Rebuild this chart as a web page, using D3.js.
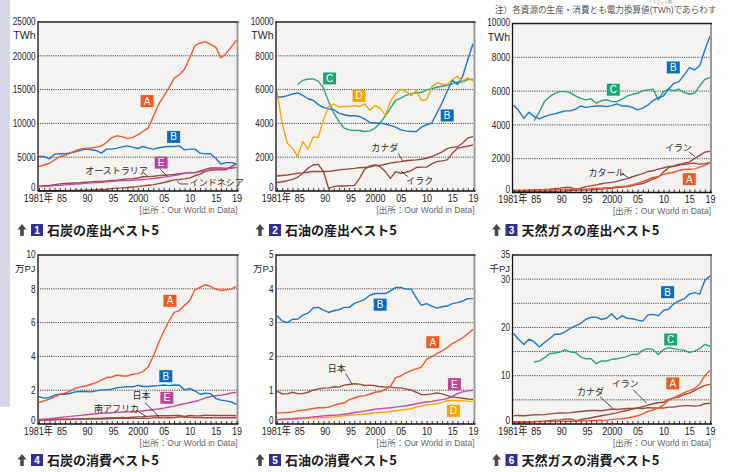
<!DOCTYPE html>
<html>
<head>
<meta charset="utf-8">
<script src="https://cdn.jsdelivr.net/npm/d3@7"></script>
<style>
  body { margin: 0; background: #fff; }
  svg { display: block; }
</style>
</head>
<body>
<svg id="chart" width="735" height="472"></svg>
<script>
// ---------- data ----------
const years = [1981,1982,1983,1984,1985,1986,1987,1988,1989,1990,1991,1992,1993,1994,1995,1996,1997,1998,1999,2000,
               2001,2002,2003,2004,2005,2006,2007,2008,2009,2010,2011,2012,2013,2014,2015,2016,2017,2018,2019];
const yearLabels = {1981: "1981年", 1985: "85", 1990: "90", 1995: "95", 2000: "2000", 2005: "05", 2010: "10", 2015: "15", 2019: "19"};

// 1 coal production (TWh)
const coalProdA = [3600,3850,4100,4600,5100,5250,5600,5950,6200,6340,6340,6480,6680,7180,7900,8150,8050,7750,7900,8300,8800,9300,11000,12800,14000,15250,16700,17200,18000,19700,21500,21900,22100,21700,21300,19700,20350,21300,22300];
const coalProdB = [5100,5100,4750,5450,5500,5500,5650,5800,6000,6200,6100,6000,5600,6200,6200,6350,6530,6680,6500,6290,6580,6350,6200,6400,6500,6580,6580,6680,6090,6200,6200,5600,5500,5500,4850,4000,4200,4200,4000];
const coalProdE = [650,700,740,800,850,900,950,1010,1080,1130,1200,1250,1300,1350,1420,1480,1530,1560,1580,1640,1700,1760,1850,1960,2050,2170,2300,2450,2600,2700,2750,2850,2950,3100,3200,3250,3300,3450,3500];
const coalProdAustralia = [720,780,830,950,1050,1100,1150,1180,1220,1300,1350,1400,1420,1470,1550,1600,1700,1800,1820,1920,2100,2120,2180,2270,2320,2380,2450,2550,2650,2750,2700,2950,3200,3400,3400,3400,3350,3400,3500];
const coalProdIndonesia = [20,25,30,40,50,60,70,90,110,130,160,200,230,270,350,420,460,520,600,650,750,850,950,1100,1250,1450,1650,1700,1800,1950,2250,2500,2900,3100,3150,3150,3150,3600,4000];

// 2 oil production (TWh)
const oilProdB = [5560,5560,5640,5740,5800,5660,5460,5370,5110,4950,4870,4810,4610,4510,4450,4450,4410,4260,4060,4020,4020,3960,3880,3780,3620,3560,3520,3520,3780,3920,4020,4610,5210,5900,6550,6300,6790,7780,8710];
const oilProdC = [null,null,null,null,6300,6550,6630,6630,6500,6100,5300,4610,4120,3720,3620,3580,3580,3520,3560,3720,4020,4450,4910,5370,5500,5660,5760,5800,5840,5980,6060,6140,6200,6260,6340,6450,6450,6600,6620];
const oilProdD = [5900,4000,2830,2530,2040,2930,2470,3190,3170,4220,5000,5150,4970,5000,5000,5050,5000,5150,4770,5070,4900,4470,5300,5760,6000,5900,5640,5940,5370,5400,6160,6400,6320,6300,6600,6790,6500,6690,6500];
const oilProdCanada = [890,920,950,1000,1050,1070,1110,1150,1150,1150,1160,1200,1250,1280,1310,1340,1380,1400,1420,1500,1520,1580,1650,1700,1740,1790,1820,1840,1880,1940,2040,2170,2320,2510,2580,2620,2840,3130,3230];
const oilProdIraq = [500,550,610,690,810,1050,1350,1540,1580,1150,160,260,300,300,320,320,750,1290,1490,1540,1440,1150,750,1150,1050,1110,1210,1390,1410,1410,1600,1740,1780,1840,2230,2530,2600,2650,2730];

// 3 natural gas production (TWh)
const gasProdB = [5180,4850,4390,4750,4490,4350,4490,4590,4650,4750,4830,4830,4930,5120,5040,5080,5120,5120,5080,5140,5240,5120,5120,5040,4890,4990,5180,5440,5610,5710,6130,6460,6560,6950,7390,7250,7490,8430,9260];
const gasProdC = [null,null,null,null,4250,4790,5380,5670,5870,5970,5970,5910,5710,5570,5480,5540,5280,5440,5480,5380,5380,5520,5710,5810,5870,6030,6070,6110,5480,5970,6110,6030,6110,5910,5830,5870,6300,6700,6800];
const gasProdA = [140,140,135,135,145,155,160,165,170,170,175,180,190,195,200,230,250,260,280,300,340,360,390,460,550,650,770,890,950,1070,1140,1210,1300,1360,1380,1400,1500,1610,1770];
const gasProdIran = [80,90,110,130,150,170,180,200,230,260,300,300,180,250,350,390,450,520,570,600,660,750,820,930,1030,1120,1240,1290,1380,1460,1540,1560,1610,1740,1800,2000,2200,2390,2440];
const gasProdQatar = [60,55,55,60,60,65,65,70,75,80,85,120,140,140,140,150,180,200,230,250,290,320,330,410,480,530,660,800,920,1200,1480,1570,1680,1660,1710,1740,1680,1700,1780];

// 4 coal consumption (10^4 PJ)
const coalConsA = [1.27,1.37,1.47,1.61,1.75,1.82,1.96,2.12,2.2,2.25,2.35,2.45,2.59,2.75,2.78,2.9,2.84,2.84,2.94,2.98,3.1,3.37,4.02,4.8,5.49,6.08,6.61,6.71,7.02,7.29,7.94,8.08,8.24,8.14,7.98,7.9,7.94,7.98,8.14];
const coalConsB = [1.61,1.53,1.57,1.71,1.76,1.76,1.82,1.9,1.92,1.92,1.9,1.96,2.02,2.02,2.06,2.14,2.18,2.2,2.2,2.29,2.22,2.22,2.25,2.27,2.31,2.27,2.31,2.29,2.02,2.1,1.96,1.76,1.82,1.8,1.51,1.41,1.37,1.31,1.14];
const coalConsE = [0.27,0.29,0.31,0.34,0.39,0.42,0.45,0.48,0.51,0.55,0.58,0.61,0.63,0.65,0.67,0.69,0.71,0.72,0.74,0.76,0.78,0.81,0.84,0.89,0.94,1.0,1.06,1.14,1.2,1.27,1.33,1.43,1.55,1.63,1.67,1.71,1.76,1.84,1.86];
const coalConsJapan = [0.26,0.26,0.25,0.28,0.28,0.27,0.27,0.29,0.3,0.31,0.33,0.33,0.34,0.36,0.37,0.38,0.39,0.38,0.4,0.42,0.43,0.45,0.47,0.49,0.49,0.49,0.51,0.5,0.45,0.5,0.48,0.49,0.52,0.51,0.5,0.5,0.51,0.5,0.49];
const coalConsSAfrica = [0.22,0.23,0.24,0.25,0.27,0.28,0.28,0.29,0.3,0.3,0.3,0.29,0.3,0.31,0.32,0.33,0.34,0.33,0.33,0.33,0.33,0.33,0.36,0.37,0.36,0.37,0.38,0.41,0.41,0.39,0.38,0.38,0.37,0.38,0.36,0.37,0.37,0.37,0.37];

// 5 oil consumption (10^4 PJ)
const oilConsB = [3.2,3.05,3.0,3.1,3.1,3.22,3.28,3.43,3.45,3.37,3.3,3.35,3.38,3.45,3.45,3.57,3.62,3.69,3.81,3.86,3.86,3.86,3.94,4.04,4.04,3.99,3.99,3.74,3.51,3.56,3.49,3.43,3.47,3.49,3.56,3.59,3.64,3.71,3.71];
const oilConsA = [0.33,0.33,0.34,0.36,0.39,0.41,0.43,0.46,0.48,0.48,0.5,0.55,0.6,0.62,0.72,0.77,0.82,0.84,0.88,0.94,0.96,1.02,1.12,1.37,1.42,1.51,1.58,1.63,1.68,1.91,1.99,2.08,2.16,2.26,2.38,2.46,2.55,2.67,2.8];
const oilConsJapan = [0.97,0.89,0.89,0.94,0.9,0.9,0.94,1.0,1.04,1.06,1.07,1.1,1.09,1.15,1.17,1.19,1.18,1.14,1.15,1.13,1.1,1.09,1.09,1.07,1.07,1.04,1.0,0.94,0.87,0.87,0.89,0.92,0.89,0.84,0.8,0.78,0.76,0.74,0.73];
const oilConsE = [0.13,0.14,0.15,0.16,0.17,0.18,0.19,0.21,0.22,0.24,0.25,0.26,0.27,0.29,0.31,0.34,0.36,0.38,0.41,0.44,0.45,0.47,0.48,0.5,0.52,0.54,0.57,0.6,0.63,0.65,0.67,0.7,0.72,0.75,0.82,0.9,0.95,0.98,1.0];
const oilConsD = [0.13,0.13,0.14,0.14,0.15,0.16,0.17,0.18,0.18,0.19,0.2,0.21,0.23,0.24,0.26,0.27,0.28,0.29,0.31,0.33,0.34,0.35,0.37,0.39,0.41,0.43,0.45,0.5,0.53,0.57,0.58,0.6,0.64,0.69,0.7,0.69,0.69,0.67,0.67];

// 6 natural gas consumption (10^3 PJ)
const gasConsB = [18.75,17.5,16.46,17.57,17.0,15.97,16.88,17.7,18.6,18.6,19.1,19.8,20.3,20.8,21.7,22.1,22.1,21.7,21.9,22.8,21.7,22.4,21.9,21.8,21.5,21.3,22.6,22.7,22.4,23.5,23.8,24.9,25.5,25.9,26.9,27.2,26.9,29.7,30.7];
const gasConsC = [null,null,null,null,12.85,13.06,13.75,14.6,14.7,14.9,15.4,14.9,14.8,13.9,13.5,13.5,12.5,13.06,13.06,13.4,13.5,13.75,14.0,14.4,14.4,15.3,15.6,15.4,14.4,15.4,15.8,15.6,15.4,15.3,14.8,15.1,15.6,16.5,16.1];
const gasConsA = [0.5,0.48,0.47,0.48,0.5,0.52,0.53,0.54,0.55,0.55,0.56,0.57,0.6,0.62,0.65,0.68,0.72,0.75,0.8,0.9,1.0,1.1,1.25,1.45,1.7,2.1,2.6,2.9,3.3,3.9,4.9,5.4,6.0,6.5,6.9,7.3,8.3,10.0,11.1];
const gasConsIran = [0.2,0.25,0.3,0.4,0.5,0.55,0.6,0.7,0.8,0.85,1.0,1.05,0.7,0.9,1.1,1.3,1.5,1.7,1.9,2.1,2.3,2.6,2.8,3.1,3.3,3.6,3.9,4.2,4.4,4.5,5.1,5.4,5.6,6.1,6.4,6.9,7.5,8.0,8.2];
const gasConsCanada = [1.74,1.75,1.7,1.8,1.94,1.9,1.95,2.1,2.2,2.3,2.25,2.35,2.5,2.6,2.7,2.8,2.8,2.75,2.9,3.1,3.0,3.1,3.2,3.2,3.3,3.2,3.4,3.3,3.3,3.3,3.5,3.5,3.7,3.8,3.8,3.7,3.8,4.2,4.3];

// ---------- styling ----------
const lineColor = { A: "#f05a28", B: "#1b78cc", C: "#2aa67d", D: "#f7a70a", E: "#c84a9f", brown: "#9b4a3e" };
const boxColor  = { A: "#ee5a24", B: "#0a6ebd", C: "#1ea57a", D: "#f6a500", E: "#c1429a" };
const numFont = "'Liberation Sans', Arial, sans-serif";
const smallFont = "'Liberation Sans', 'Noto Sans CJK JP', sans-serif";
const titleFont = "'Noto Sans CJK JP', 'Noto Sans', sans-serif";
const squeeze = "scale(0.82,1)";   // condensed look for axis numerals
const labelShift = {1981: -1.5, 1985: 2, 1990: 1.5, 1995: 1.5};

const svg = d3.select("#chart");

// side strip
svg.append("rect").attr("x", 0).attr("y", 0).attr("width", 10).attr("height", 407).attr("fill", "#d6d8ea");

// note at top right, with ruby over the unit
svg.append("text").attr("x", 495).attr("y", 13)
  .attr("font-family", smallFont).attr("font-size", 8.6).attr("fill", "#555")
  .text("注）各資源の生産・消費とも電力換算値(TWh)であらわす");
svg.append("text").attr("x", 660).attr("y", 3.8).attr("text-anchor", "middle")
  .attr("font-family", smallFont).attr("font-size", 4).attr("fill", "#888")
  .text("テラワット時");

const cols = [
  { fl: 38,    fr: 237.5, xa: 39,    xb: 236.5 },
  { fl: 276,   fr: 474.5, xa: 277,   xb: 473 },
  { fl: 512.5, fr: 711,   xa: 513.5, xb: 710 }
];
const rows = [
  { top: 22,  bottom: 191, titleY: 235 },
  { top: 255, bottom: 424, titleY: 465 }
];

const panels = [
  { col: 0, row: 0, num: "1", title: "石炭の産出ベスト5", max: 25000, unit: "TWh",
    grid: [5000, 10000, 15000, 20000], labels: [0, 5000, 10000, 15000, 20000, 25000],
    series: [
      { v: coalProdAustralia, c: "brown" }, { v: coalProdIndonesia, c: "brown" },
      { v: coalProdE, c: "E" }, { v: coalProdB, c: "B" }, { v: coalProdA, c: "A" }],
    boxes: [["A", 2001.8, 13300], ["B", 2006.9, 8000], ["E", 2004.5, 4200]],
    notes: [
      { t: "オーストラリア", at: [1995.9, 2960], anchor: "middle", leader: [[2001.1, 2710], [2002.0, 2115]] },
      { t: "インドネシア", at: [2010.0, 1180], anchor: "start", leader: [[2007.5, 1520], [2008.1, 1040], [2009.7, 1040]] },
      { t: "", at: [0, 0], leader: [[2004.3, 3210], [2005.6, 2260]] }]
  },
  { col: 1, row: 0, num: "2", title: "石油の産出ベスト5", max: 10000, unit: "TWh",
    grid: [2000, 4000, 6000, 8000], labels: [0, 2000, 4000, 6000, 8000, 10000],
    series: [
      { v: oilProdCanada, c: "brown" }, { v: oilProdIraq, c: "brown" },
      { v: oilProdC, c: "C" }, { v: oilProdB, c: "B" }, { v: oilProdD, c: "D" }],
    boxes: [["C", 1991.2, 6660], ["D", 1996.9, 5630], ["B", 2014.0, 4470]],
    notes: [
      { t: "カナダ", at: [2001.9, 2540], anchor: "middle", leader: [[2004.5, 2230], [2005.5, 1730]] },
      { t: "イラク", at: [2008.7, 590], anchor: "middle", leader: [[2006.4, 850], [2005.0, 1180]] }]
  },
  { col: 2, row: 0, dy: 1.5, num: "3", title: "天然ガスの産出ベスト5", max: 10000, unit: "TWh",
    grid: [2000, 4000, 6000, 8000], labels: [0, 2000, 4000, 6000, 8000, 10000],
    series: [
      { v: gasProdIran, c: "brown" }, { v: gasProdQatar, c: "brown" },
      { v: gasProdA, c: "A" }, { v: gasProdC, c: "C" }, { v: gasProdB, c: "B" }],
    boxes: [["B", 2011.9, 7400], ["C", 2000.3, 6080], ["A", 2015.0, 790]],
    notes: [
      { t: "イラン", at: [2012.9, 2640], anchor: "middle", leader: [[2014.9, 2410], [2016.1, 2120]] },
      { t: "カタール", at: [1999.0, 1180], anchor: "middle", leader: [[2001.9, 1140], [2003.2, 880]] }]
  },
  { col: 0, row: 1, num: "4", title: "石炭の消費ベスト5", max: 10, unit: "万PJ",
    grid: [2, 4, 6, 8], labels: [0, 2, 4, 6, 8, 10],
    series: [
      { v: coalConsSAfrica, c: "brown" }, { v: coalConsJapan, c: "brown" },
      { v: coalConsE, c: "E" }, { v: coalConsB, c: "B" }, { v: coalConsA, c: "A" }],
    boxes: [["A", 2006.2, 7.29], ["B", 2005.4, 2.83], ["E", 2005.6, 1.55]],
    notes: [
      { t: "日本", at: [2000.7, 1.64], anchor: "middle", leader: [[2001.4, 1.26], [2004.1, 0.43]] },
      { t: "南アフリカ", at: [1995.9, 0.88], anchor: "middle", leader: [[1999.8, 0.79], [2001.7, 0.43]] }]
  },
  { col: 1, row: 1, num: "5", title: "石油の消費ベスト5", max: 5, unit: "万PJ",
    grid: [1, 2, 3, 4], labels: [0, 1, 2, 3, 4, 5],
    series: [
      { v: oilConsJapan, c: "brown" }, { v: oilConsD, c: "D" }, { v: oilConsE, c: "E" },
      { v: oilConsA, c: "A" }, { v: oilConsB, c: "B" }],
    boxes: [["B", 2001.0, 3.53], ["A", 2011.2, 2.42], ["E", 2015.4, 1.18], ["D", 2015.2, 0.39]],
    notes: [
      { t: "日本", at: [1992.6, 1.63], anchor: "middle", leader: [[1994.3, 1.5], [1995.6, 1.17]] }]
  },
  { col: 2, row: 1, num: "6", title: "天然ガスの消費ベスト5", max: 35, unit: "千PJ",
    grid: [5, 10, 15, 20, 25, 30], labels: [0, 10, 20, 30, 35],
    series: [
      { v: gasConsCanada, c: "brown" }, { v: gasConsIran, c: "brown" },
      { v: gasConsA, c: "A" }, { v: gasConsC, c: "C" }, { v: gasConsB, c: "B" }],
    boxes: [["B", 2010.8, 27.3], ["C", 2011.4, 17.5], ["A", 2011.8, 8.4]],
    notes: [
      { t: "カナダ", at: [1995.9, 6.7], anchor: "middle", leader: [[1997.7, 5.65], [2000.2, 3.25]] },
      { t: "イラン", at: [2002.6, 8.2], anchor: "middle", leader: [[2004.2, 7.04], [2006.8, 4.29]] }]
  }
];

panels.forEach(drawPanel);

function drawPanel(p) {
  const c = cols[p.col], r = rows[p.row];
  const dy = p.dy || 0;
  const top = r.top + dy, bottom = r.bottom + dy;
  const g = svg.append("g");
  const x = d3.scaleLinear().domain([1981, 2019]).range([c.xa, c.xb]);
  const y = d3.scaleLinear().domain([0, p.max]).range([bottom, top]);

  // plot background
  g.append("rect").attr("x", c.fl).attr("y", top)
    .attr("width", c.fr - c.fl).attr("height", bottom - top).attr("fill", "#f4f3f1");

  // dotted gridlines
  g.selectAll("line.grid").data(p.grid).join("line").attr("class", "grid")
    .attr("x1", c.fl).attr("x2", c.fr).attr("y1", d => y(d)).attr("y2", d => y(d))
    .attr("stroke", "#333").attr("stroke-width", 1).attr("stroke-dasharray", "1,1.2");

  // series lines
  const line = d3.line().defined(d => d[1] != null)
    .x(d => x(d[0])).y(d => y(d[1]));
  p.series.forEach(s => {
    g.append("path").datum(years.map((yr, i) => [yr, s.v[i]]))
      .attr("d", line).attr("fill", "none")
      .attr("stroke", lineColor[s.c]).attr("stroke-width", 1.4)
      .attr("stroke-linejoin", "round");
  });

  // frame
  g.append("line").attr("x1", c.fr).attr("x2", c.fr).attr("y1", top).attr("y2", bottom)
    .attr("stroke", "#9a9a9a").attr("stroke-width", 2);
  g.append("line").attr("x1", c.fl).attr("x2", c.fr + 1).attr("y1", top).attr("y2", top)
    .attr("stroke", "#222").attr("stroke-width", 1.4);
  g.append("line").attr("x1", c.fl).attr("x2", c.fl).attr("y1", top - 0.7).attr("y2", bottom)
    .attr("stroke", "#111").attr("stroke-width", 1.3);

  // x axis with yearly ticks
  const xAxis = d3.axisBottom(x).tickValues(years).tickSize(-3).tickPadding(2.8)
    .tickFormat(d => yearLabels[d] || "");
  const xa = g.append("g").attr("transform", `translate(0,${bottom})`).call(xAxis);
  xa.select(".domain").remove();
  xa.selectAll(".tick line").attr("stroke", "#111").attr("stroke-width", 0.8);
  xa.selectAll(".tick text").filter(d => !yearLabels[d]).remove();
  xa.selectAll(".tick text")
    .attr("font-family", smallFont).attr("font-size", 11)
    .attr("fill", "#1a1a1a").attr("dy", "0.71em")
    .attr("x", d => labelShift[d] || 0)
    .attr("transform", squeeze);
  g.append("line").attr("x1", c.fl - 0.6).attr("x2", c.fr + 1).attr("y1", bottom).attr("y2", bottom)
    .attr("stroke", "#111").attr("stroke-width", 1.3);

  // y axis labels
  const yAxis = d3.axisLeft(y).tickValues(p.labels).tickSize(0).tickPadding(3)
    .tickFormat(d => String(d));
  const ya = g.append("g").attr("transform", `translate(${c.fl},0)`).call(yAxis);
  ya.select(".domain").remove();
  ya.selectAll(".tick text").attr("font-family", numFont).attr("font-size", 10)
    .attr("fill", "#222").attr("transform", squeeze)
    .attr("dy", d => d === 0 ? "-0.05em" : (d === p.max ? "0.2em" : "0.32em"));
  g.append("text").attr("x", c.fl - 2.5).attr("y", top + 17).attr("text-anchor", "end")
    .attr("font-family", smallFont)
    .attr("font-size", p.unit === "TWh" ? 10.5 : 9.5).attr("fill", "#222")
    .text(p.unit);

  // leader lines and country labels
  p.notes.forEach(n => {
    g.append("path").attr("d", d3.line()(n.leader.map(q => [x(q[0]), y(q[1])])))
      .attr("fill", "none").attr("stroke", "#222").attr("stroke-width", 0.8);
    if (n.t) {
      g.append("text").attr("x", x(n.at[0])).attr("y", y(n.at[1]))
        .attr("text-anchor", n.anchor).attr("dominant-baseline", "central")
        .attr("font-family", smallFont).attr("font-size", 9).attr("fill", "#2a2a2a")
        .text(n.t);
    }
  });

  // letter boxes
  p.boxes.forEach(([k, yr, v]) => {
    const bx = x(yr), by = y(v);
    g.append("rect").attr("x", bx - 6.5).attr("y", by - 6).attr("width", 13).attr("height", 12)
      .attr("fill", boxColor[k]);
    g.append("text").attr("x", bx).attr("y", by).attr("text-anchor", "middle")
      .attr("dominant-baseline", "central")
      .attr("font-family", numFont).attr("font-size", 10)
      .attr("fill", "#fff").text(k);
  });

  // source
  g.append("text").attr("x", c.fr).attr("y", bottom + 21.5).attr("text-anchor", "end")
    .attr("font-family", smallFont).attr("font-size", 8.5).attr("fill", "#666")
    .text("[出所：Our World in Data]");

  // title: arrow, numbered box, caption
  const ty = r.titleY - 5;
  const ax = c.fl - 16;
  g.append("path")
    .attr("d", `M${ax},${ty - 6} L${ax + 4.5},${ty - 0.5} L${ax + 1.8},${ty - 0.5} L${ax + 1.8},${ty + 6} L${ax - 1.8},${ty + 6} L${ax - 1.8},${ty - 0.5} L${ax - 4.5},${ty - 0.5} Z`)
    .attr("fill", "#4a4a4a");
  g.append("rect").attr("x", c.fl - 7).attr("y", ty - 6).attr("width", 12).attr("height", 12)
    .attr("fill", "#2e3190");
  g.append("text").attr("x", c.fl - 1).attr("y", ty).attr("text-anchor", "middle")
    .attr("dominant-baseline", "central").attr("font-family", numFont)
    .attr("font-weight", "bold").attr("font-size", 10).attr("fill", "#fff").text(p.num);
  g.append("text").attr("x", c.fl + 9).attr("y", r.titleY)
    .attr("font-family", titleFont).attr("font-weight", "bold").attr("font-size", 13)
    .attr("fill", "#1a1a1a").text(p.title);
}
</script>
</body>
</html>
